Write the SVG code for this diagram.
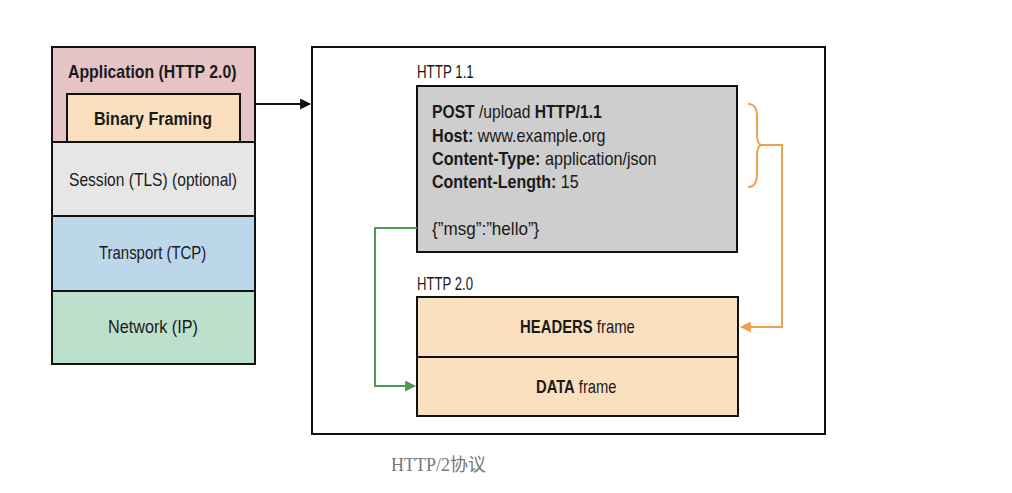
<svg xmlns="http://www.w3.org/2000/svg" width="1012" height="493" viewBox="0 0 1012 493">
<style>
text{font-family:"Liberation Sans",Arial,sans-serif;fill:#1a1a1a;font-size:18px}
.b{font-weight:bold}
.box{stroke:#111;stroke-width:2}
.cap{font-family:"Liberation Serif","Noto Sans CJK SC",serif;fill:#777;font-size:18px}
</style>
<defs>
<marker id="ab" viewBox="0 0 10 10" refX="9" refY="5" markerWidth="11" markerHeight="11" markerUnits="userSpaceOnUse" orient="auto"><path d="M0,0L10,5L0,10z" fill="#111"/></marker>
<marker id="ag" viewBox="0 0 10 10" refX="9" refY="5" markerWidth="11" markerHeight="11" markerUnits="userSpaceOnUse" orient="auto"><path d="M0,0L10,5L0,10z" fill="#4a9a50"/></marker>
<marker id="ao" viewBox="0 0 10 10" refX="9" refY="5" markerWidth="11" markerHeight="11" markerUnits="userSpaceOnUse" orient="auto"><path d="M0,0L10,5L0,10z" fill="#f0a050"/></marker>
</defs>
<rect width="1012" height="493" fill="#fff"/>

<g id="stack">
<g id="application"><rect class="box" x="52" y="47" width="203" height="95" fill="#e6c4c6"/>
<text class="b" transform="translate(68,78) scale(0.88,1)">Application (HTTP 2.0)</text></g>
<g id="binary-framing"><rect class="box" x="67" y="94" width="173" height="48" fill="#fae0bf"/>
<text class="b" transform="translate(94,125) scale(0.894,1)">Binary Framing</text></g>
<g id="session"><rect class="box" x="52" y="142" width="203" height="74" fill="#e6e6e6"/>
<text transform="translate(69,186) scale(0.866,1)">Session (TLS) (optional)</text></g>
<g id="transport"><rect class="box" x="52" y="216" width="203" height="75" fill="#bcd6ea"/>
<text transform="translate(99,259) scale(0.83,1)">Transport (TCP)</text></g>
<g id="network"><rect class="box" x="52" y="291" width="203" height="73" fill="#bde0cc"/>
<text transform="translate(108,333) scale(0.9,1)">Network (IP)</text></g>
</g>

<g id="container"><rect class="box" x="312" y="47" width="513" height="387" fill="#fff"/></g>

<g id="http11">
<text transform="translate(417,78) scale(0.74,1)">HTTP 1.1</text>
<rect class="box" x="417" y="86" width="320" height="166" fill="#cecece"/>
<text transform="translate(432,118) scale(0.871,1)"><tspan class="b">POST</tspan> /upload <tspan class="b">HTTP/1.1</tspan></text>
<text transform="translate(432,142) scale(0.9,1)"><tspan class="b">Host:</tspan> www.example.org</text>
<text transform="translate(432,165) scale(0.9,1)"><tspan class="b">Content-Type:</tspan> application/json</text>
<text transform="translate(432,188) scale(0.89,1)"><tspan class="b">Content-Length:</tspan> 15</text>
<text transform="translate(432,235) scale(0.95,1)">{”msg”:”hello”}</text>
</g>

<g id="http20">
<text transform="translate(417,290) scale(0.73,1)">HTTP 2.0</text>
<g id="headers-frame"><rect class="box" x="417" y="297" width="321" height="60" fill="#fbe0c0"/>
<text transform="translate(520,333) scale(0.827,1)"><tspan class="b">HEADERS</tspan> frame</text></g>
<g id="data-frame"><rect class="box" x="417" y="357" width="321" height="59" fill="#fbe0c0"/>
<text transform="translate(536,393) scale(0.82,1)"><tspan class="b">DATA</tspan> frame</text></g>
</g>

<g id="connectors" fill="none">
<path d="M255,104H310" stroke="#111" stroke-width="2" marker-end="url(#ab)"/>
<path d="M417,228H375V386H415" stroke="#4a9a50" stroke-width="2" marker-end="url(#ag)"/>
<path d="M748,104C756,104 757,110 757,118V134C757,141 758,145 762,145C758,145 757,149 757,156V172C757,180 756,187 748,187" stroke="#f0a050" stroke-width="2"/>
<path d="M760,145H782V327H741" stroke="#f0a050" stroke-width="2" marker-end="url(#ao)"/>
</g>

<text class="cap" x="391" y="471">HTTP/2协议</text>
</svg>
